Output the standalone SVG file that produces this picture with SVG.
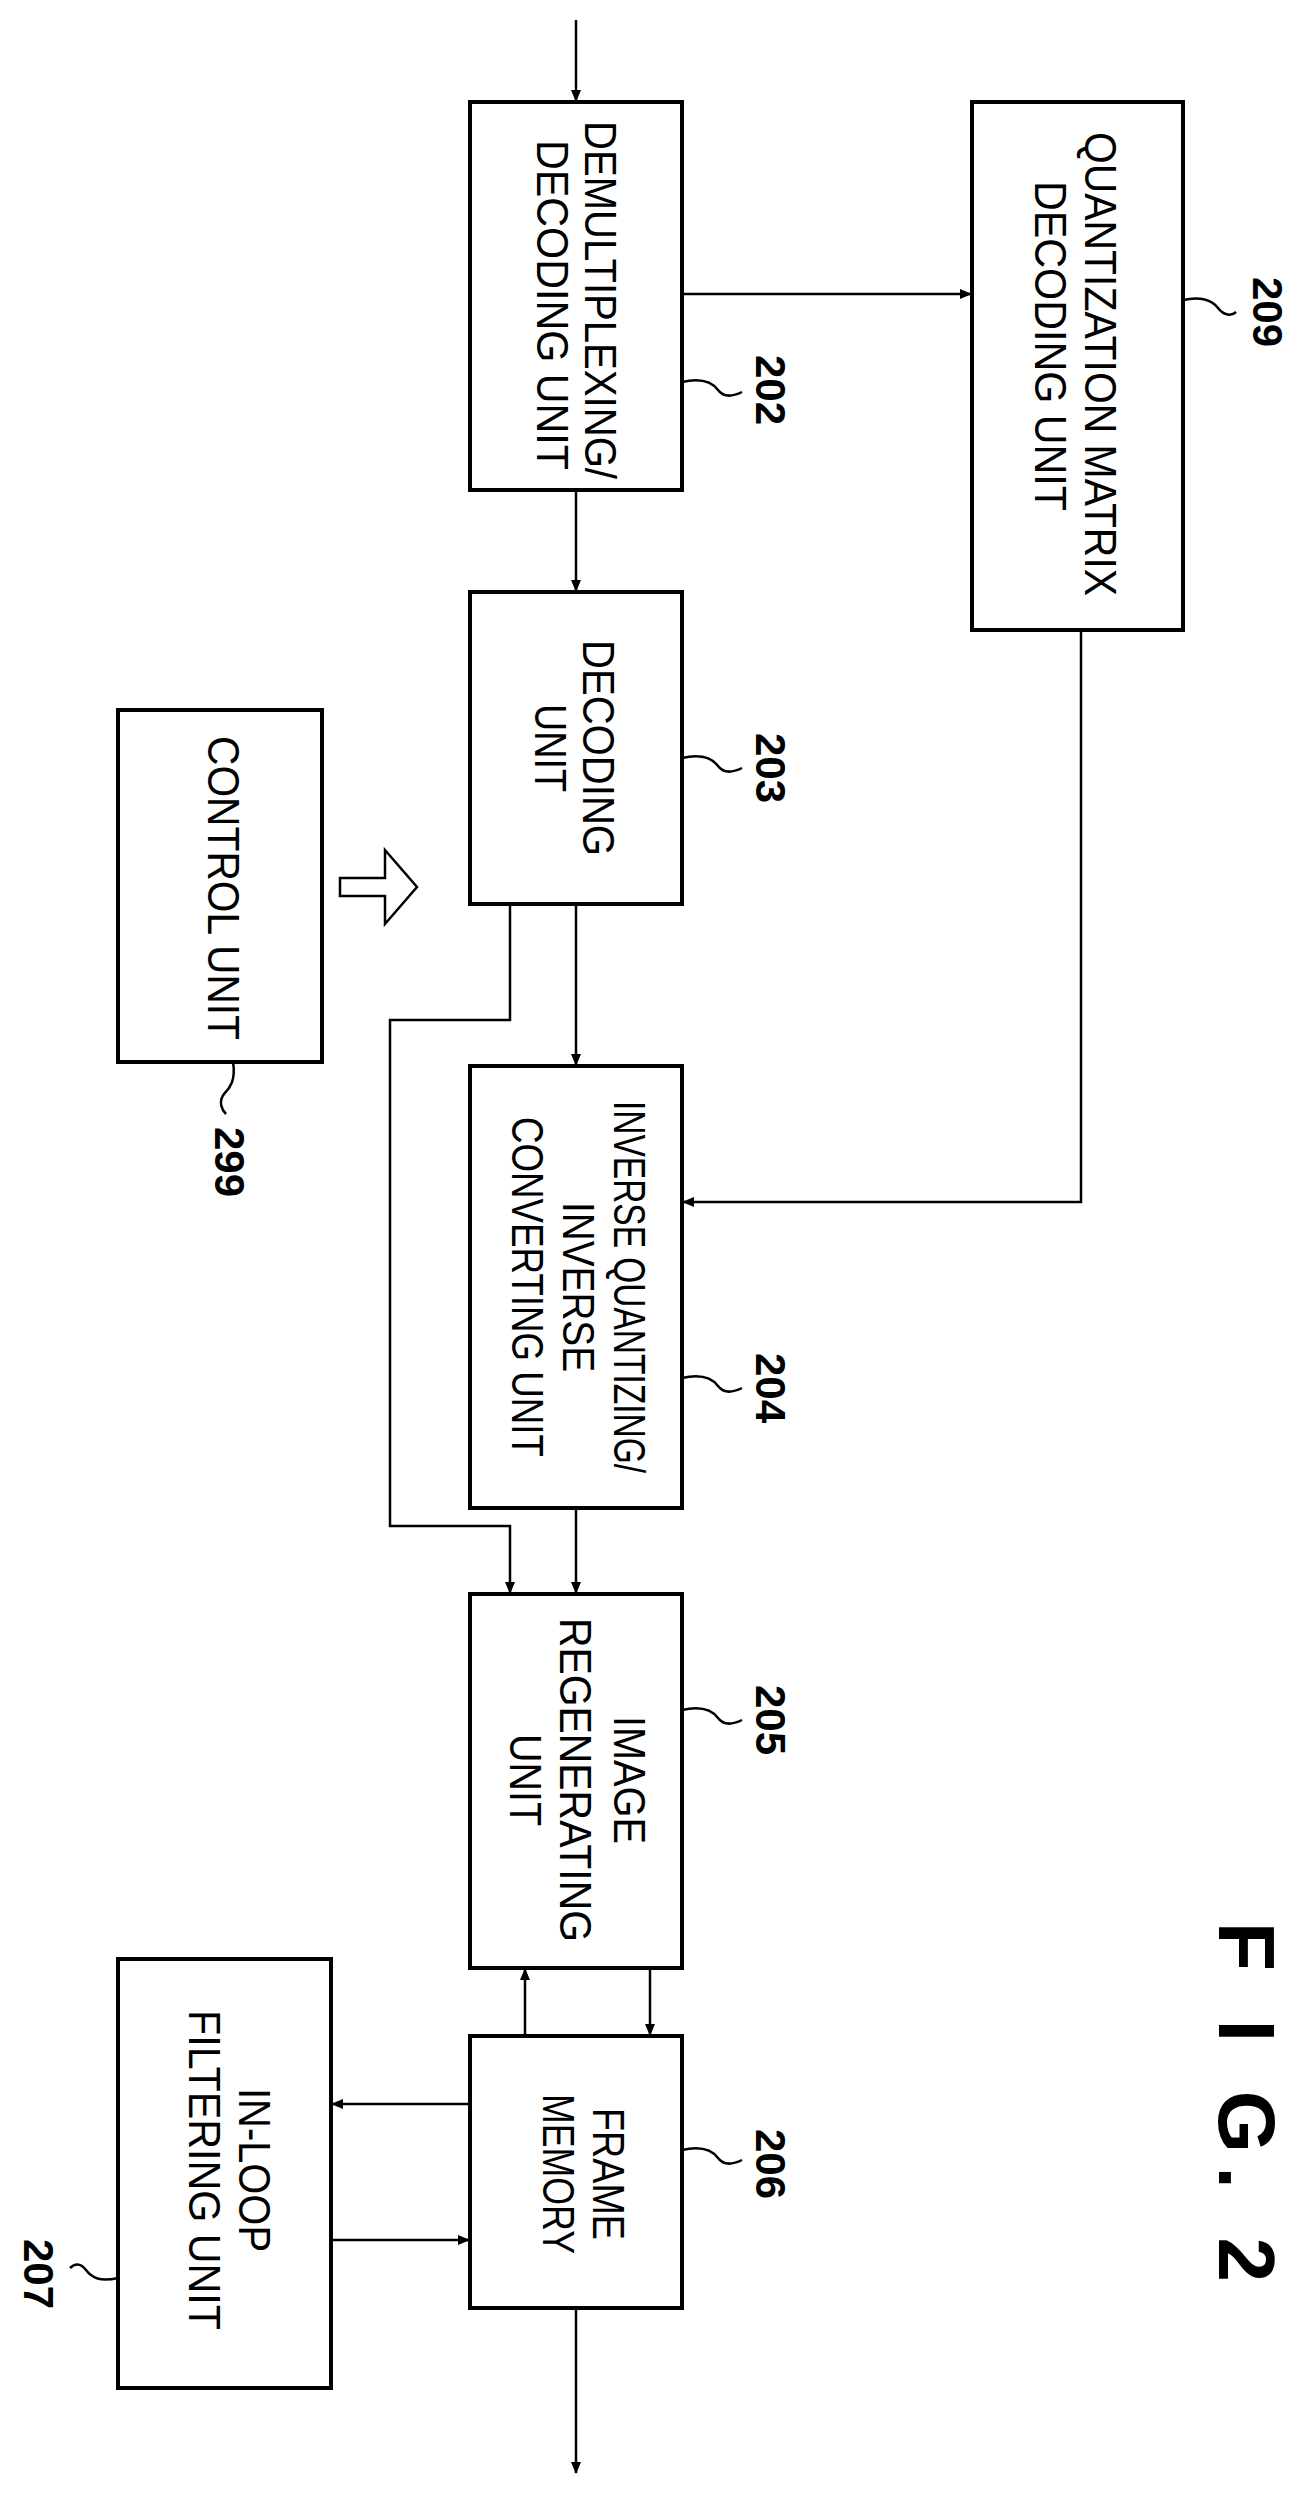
<svg xmlns="http://www.w3.org/2000/svg" width="1299" height="2495" viewBox="0 0 1299 2495">
<style>
.box{fill:#fff;stroke:#000;stroke-width:4}
.ln{fill:none;stroke:#000;stroke-width:2.5}
.t{font-family:"Liberation Sans",Arial,sans-serif;font-size:44px;text-anchor:middle;dominant-baseline:central}
.r{font-family:"Liberation Sans",Arial,sans-serif;font-size:42px;font-weight:bold;text-anchor:middle;dominant-baseline:central}
</style>
<defs>
<marker id="a" markerWidth="12" markerHeight="10" refX="11" refY="5" orient="auto" markerUnits="userSpaceOnUse"><path d="M0,0 L12,5 L0,10 Z" fill="#000"/></marker>
</defs>
<rect width="1299" height="2495" fill="#fff"/>
<g id="connectors">
<path class="ln" d="M576,20 V101" marker-end="url(#a)"/>
<path class="ln" d="M682,294 H971" marker-end="url(#a)"/>
<path class="ln" d="M576,490 V591" marker-end="url(#a)"/>
<path class="ln" d="M1081,630 V1202 H683" marker-end="url(#a)"/>
<path class="ln" d="M576,904 V1065" marker-end="url(#a)"/>
<path class="ln" d="M510,904 V1020 H390 V1526 H510 V1593" marker-end="url(#a)"/>
<path class="ln" d="M576,1508 V1593" marker-end="url(#a)"/>
<path class="ln" d="M650,1968 V2035" marker-end="url(#a)"/>
<path class="ln" d="M525,2036 V1969" marker-end="url(#a)"/>
<path class="ln" d="M470,2104 H332" marker-end="url(#a)"/>
<path class="ln" d="M331,2240 H469" marker-end="url(#a)"/>
<path class="ln" d="M576,2308 V2473" marker-end="url(#a)"/>
<path d="M340,878 H385 V850 L417,887 L385,924 V896 H340 Z" fill="#fff" stroke="#000" stroke-width="2.5"/>
</g>
<g id="n202"><rect class="box" x="470" y="102" width="212" height="388"/>
<text class="t" transform="translate(600,300) rotate(90)" textLength="358" lengthAdjust="spacingAndGlyphs">DEMULTIPLEXING/</text>
<text class="t" transform="translate(552,305) rotate(90)" textLength="330" lengthAdjust="spacingAndGlyphs">DECODING UNIT</text>
<path class="ln" d="M682,382 C700,378 712,382 718,390 C724,398 734,396 742,392"/>
<text class="r" transform="translate(770,390) rotate(90)">202</text></g>
<g id="n209"><rect class="box" x="972" y="102" width="211" height="528"/>
<text class="t" transform="translate(1100,364) rotate(90)" textLength="464" lengthAdjust="spacingAndGlyphs">QUANTIZATION MATRIX</text>
<text class="t" transform="translate(1050,346) rotate(90)" textLength="330" lengthAdjust="spacingAndGlyphs">DECODING UNIT</text>
<path class="ln" d="M1183,300 C1200,296 1212,300 1218,308 C1224,316 1232,316 1236,312"/>
<text class="r" transform="translate(1267,312) rotate(90)">209</text></g>
<g id="n203"><rect class="box" x="470" y="592" width="212" height="312"/>
<text class="t" transform="translate(598,748) rotate(90)" textLength="216" lengthAdjust="spacingAndGlyphs">DECODING</text>
<text class="t" transform="translate(550,748) rotate(90)" textLength="88" lengthAdjust="spacingAndGlyphs">UNIT</text>
<path class="ln" d="M682,758 C700,754 712,758 718,766 C724,774 734,772 742,768"/>
<text class="r" transform="translate(770,768) rotate(90)">203</text></g>
<g id="n299"><rect class="box" x="118" y="710" width="204" height="352"/>
<text class="t" transform="translate(223,888) rotate(90)" textLength="304" lengthAdjust="spacingAndGlyphs">CONTROL UNIT</text>
<path class="ln" d="M233,1062 C236,1080 230,1088 224,1094 C218,1102 222,1110 226,1114"/>
<text class="r" transform="translate(229,1162) rotate(90)">299</text></g>
<g id="n204"><rect class="box" x="470" y="1066" width="212" height="442"/>
<text class="t" transform="translate(629,1287) rotate(90)" textLength="372" lengthAdjust="spacingAndGlyphs">INVERSE QUANTIZING/</text>
<text class="t" transform="translate(578,1287) rotate(90)" textLength="170" lengthAdjust="spacingAndGlyphs">INVERSE</text>
<text class="t" transform="translate(527,1287) rotate(90)" textLength="340" lengthAdjust="spacingAndGlyphs">CONVERTING UNIT</text>
<path class="ln" d="M682,1378 C700,1374 712,1378 718,1386 C724,1394 734,1392 742,1388"/>
<text class="r" transform="translate(770,1388) rotate(90)">204</text></g>
<g id="n205"><rect class="box" x="470" y="1594" width="212" height="374"/>
<text class="t" transform="translate(629,1780) rotate(90)" textLength="128" lengthAdjust="spacingAndGlyphs">IMAGE</text>
<text class="t" transform="translate(575,1780) rotate(90)" textLength="324" lengthAdjust="spacingAndGlyphs">REGENERATING</text>
<text class="t" transform="translate(525,1780) rotate(90)" textLength="92" lengthAdjust="spacingAndGlyphs">UNIT</text>
<path class="ln" d="M682,1710 C700,1706 712,1710 718,1718 C724,1726 734,1724 742,1720"/>
<text class="r" transform="translate(770,1720) rotate(90)">205</text></g>
<g id="n206"><rect class="box" x="470" y="2036" width="212" height="272"/>
<text class="t" transform="translate(608,2174) rotate(90)" textLength="132" lengthAdjust="spacingAndGlyphs">FRAME</text>
<text class="t" transform="translate(558,2174) rotate(90)" textLength="160" lengthAdjust="spacingAndGlyphs">MEMORY</text>
<path class="ln" d="M682,2150 C700,2146 712,2150 718,2158 C724,2166 734,2164 742,2160"/>
<text class="r" transform="translate(770,2164) rotate(90)">206</text></g>
<g id="n207"><rect class="box" x="118" y="1959" width="213" height="429"/>
<text class="t" transform="translate(254,2170) rotate(90)" textLength="164" lengthAdjust="spacingAndGlyphs">IN-LOOP</text>
<text class="t" transform="translate(204,2170) rotate(90)" textLength="320" lengthAdjust="spacingAndGlyphs">FILTERING UNIT</text>
<path class="ln" d="M118,2278 C100,2282 92,2278 86,2270 C80,2262 74,2264 70,2268"/>
<text class="r" transform="translate(38,2274) rotate(90)">207</text></g>
<text class="r" style="font-size:80px" transform="translate(1246,2102) rotate(90)" textLength="360" lengthAdjust="spacing">F I G. 2</text>
</svg>
